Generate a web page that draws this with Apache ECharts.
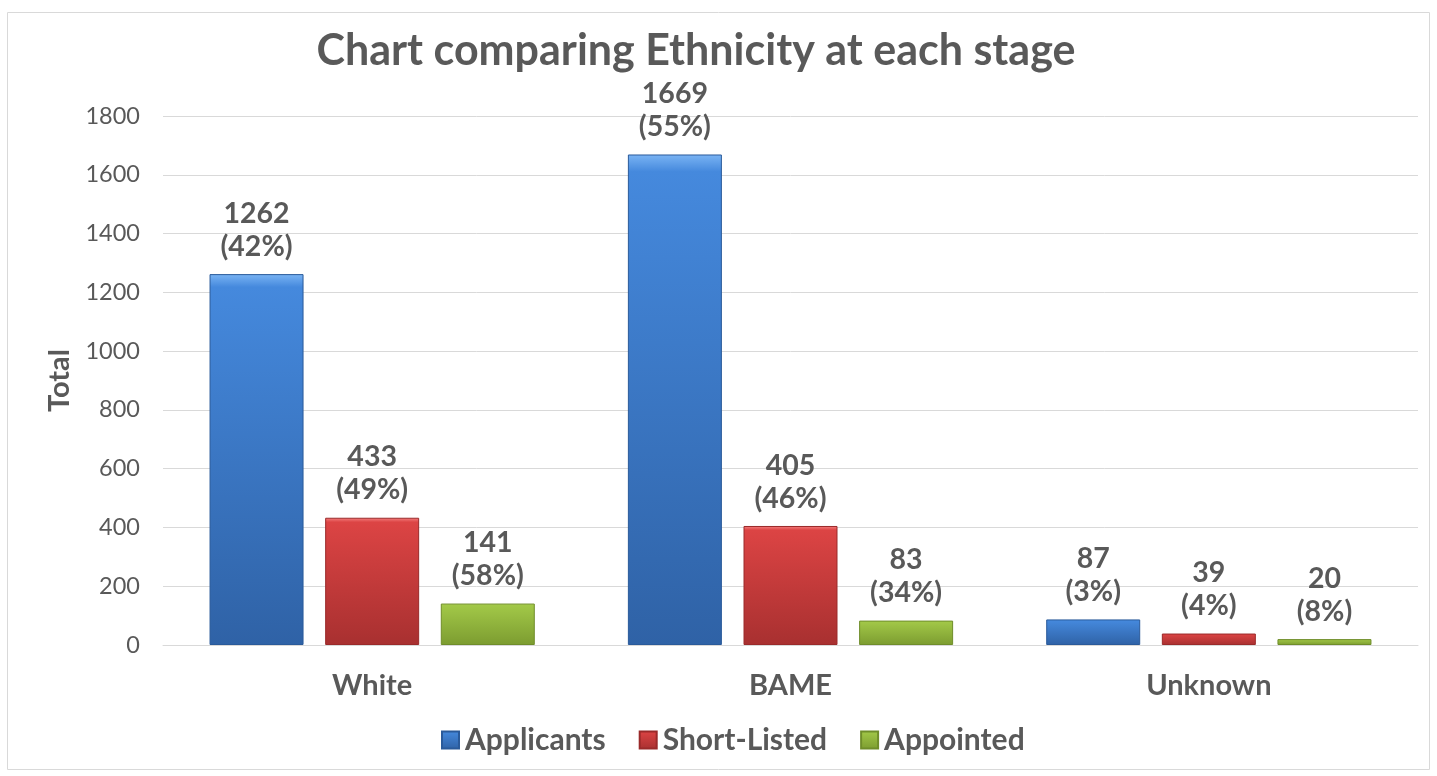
<!DOCTYPE html>
<html><head><meta charset="utf-8">
<script src="https://cdn.jsdelivr.net/npm/echarts@6/dist/echarts.min.js"></script>
<style>html,body{margin:0;padding:0;background:#fff}#c{width:1437px;height:776px}</style>
</head><body><div id="c"></div>
<script>
const categories = ['White', 'BAME', 'Unknown'];
const seriesNames = ['Applicants', 'Short-Listed', 'Appointed'];
const applicants = [1262, 1669, 87];
const applicantsPct = [42, 55, 3];
const shortListed = [433, 405, 39];
const shortListedPct = [49, 46, 4];
const appointed = [141, 83, 20];
const appointedPct = [58, 34, 8];
const yTicks = [0, 200, 400, 600, 800, 1000, 1200, 1400, 1600, 1800];

const txt = '#595959';
const font = 'Lato, "Open Sans", sans-serif';
function grad(light, mid, dark) {
  return new echarts.graphic.LinearGradient(0, 0, 0, 1, [
    {offset: 0, color: light}, {offset: 0.035, color: mid}, {offset: 1, color: dark}
  ]);
}
const styles = [
  {color: grad('#7ab4f4', '#4589dd', '#2f62a6'), borderColor: '#2a5a9a'},
  {color: grad('#f58080', '#dc4444', '#a83030'), borderColor: '#9a2a2a'},
  {color: grad('#d2f088', '#a2c848', '#7c9c30'), borderColor: '#6f8d2a'}
];
const vals = [applicants, shortListed, appointed];
const pcts = [applicantsPct, shortListedPct, appointedPct];

const chart = echarts.init(document.getElementById('c'));
chart.setOption({
  animation: false,
  textStyle: {fontFamily: font},
  graphic: [{type: 'rect', shape: {x: 7.5, y: 12.5, width: 1422, height: 757}, style: {fill: 'none', stroke: '#d9d9d9', lineWidth: 1}, z: -1}],
  title: {text: 'Chart comparing Ethnicity at each stage', left: 691, textAlign: 'center', top: 25,
    textStyle: {fontFamily: font, fontSize: 43, fontWeight: 'bold', color: txt}},
  legend: {left: 441, top: 725, itemWidth: 17, itemHeight: 17, itemGap: 33, icon: 'rect',
    textStyle: {fontFamily: font, fontSize: 30, fontWeight: 'bold', color: txt, padding: [0, 0, 0, 1]}, padding: 0},
  grid: {left: 163, right: 19, top: 116, bottom: 131},
  xAxis: {type: 'category', data: categories,
    axisLine: {lineStyle: {color: '#d9d9d9'}}, axisTick: {show: false},
    axisLabel: {fontFamily: font, fontSize: 29, fontWeight: 'bold', color: txt, margin: 26}},
  yAxis: {type: 'value', min: 0, max: 1800, interval: 200, name: 'Total', nameLocation: 'middle', nameGap: 86,
    nameTextStyle: {fontFamily: font, fontSize: 29, fontWeight: 'bold', color: txt},
    axisLabel: {fontFamily: font, fontSize: 23.5, color: txt, margin: 23,
      formatter: v => yTicks.includes(v) ? String(v) : ''},
    splitLine: {lineStyle: {color: '#d9d9d9'}}, axisLine: {show: false}, axisTick: {show: false}},
  series: seriesNames.map((n, i) => ({
    name: n, type: 'bar', barWidth: 94, barGap: '23%',
    data: vals[i].map((v, j) => ({value: v, pct: pcts[i][j]})),
    itemStyle: {color: styles[i].color, borderColor: styles[i].borderColor, borderWidth: 1},
    label: {show: true, position: 'top', distance: 11, fontFamily: font, fontSize: 28.5, fontWeight: 'bold',
      color: txt, lineHeight: 33,
      formatter: p => p.value + '\n(' + p.data.pct + '%)'}
  }))
});
</script></body></html>
